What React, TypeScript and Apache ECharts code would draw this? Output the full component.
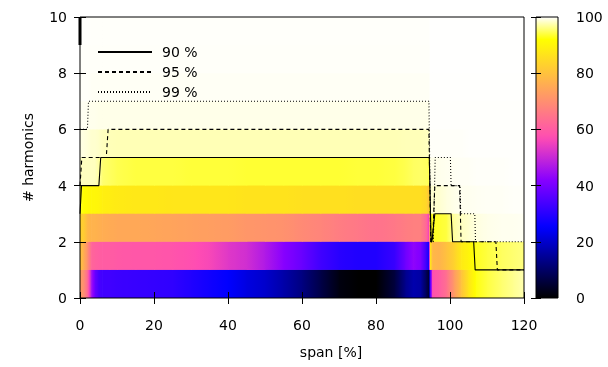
import React, { useEffect, useRef } from "react";
import * as echarts from "echarts";

// span [%] sample positions of the heat map columns
const spanX = [0, 1, 2, 3, 4, 5, 6, 8, 10, 15, 20, 25, 30, 35, 40, 45, 50, 55, 60, 65, 70, 75, 80, 85, 88, 90, 92, 93.6, 94.2, 94.6, 95.2, 97, 99, 101, 103, 105, 107, 110, 114, 117, 120];

// cumulative power [%] per harmonic row (row k spans y = k .. k+1)
const rowH0 = [72, 70, 62, 46, 38, 34, 33, 33, 32.5, 32, 31.5, 31, 29, 27, 25, 22, 20, 16.5, 12.5, 7, 1.5, 0, 0, 6, 14, 17, 16, 8, 5, 32, 58, 60, 64, 72, 80, 87, 92.5, 94, 95.5, 96.5, 97.5];
const rowH1 = [80, 76, 70, 62, 61, 60.5, 60, 60, 59.5, 59, 59, 58.5, 57.5, 56, 53, 51, 47, 42, 38, 33, 30, 29, 29, 32, 39, 43, 41, 32, 28, 88, 78, 77, 80, 83, 88, 90, 93, 94, 95, 95.5, 96];
const rowH2 = [83, 82, 78, 77, 77, 76.5, 76, 75.5, 75, 75, 74.5, 74, 73.5, 73, 72.5, 71.5, 71, 70.5, 69, 68, 66.5, 65.5, 64.5, 65.5, 66.5, 67, 67, 62, 55, 93, 93, 93.5, 94, 97, 98, 98.5, 99, 99.3, 99.5, 99.5, 99.6];
const rowH3 = [93, 92, 91, 90.5, 90.3, 90, 89, 88.5, 88, 87.5, 87.5, 87, 87, 87, 87, 86.5, 86.5, 86.5, 86, 86, 86, 85.5, 85.5, 85.5, 85.5, 85.5, 85.5, 84, 80, 98.5, 98.5, 98.5, 99, 99.3, 99.5, 99.5, 99.6, 99.7, 99.7, 99.8, 99.8];
const rowH4 = [98, 98, 98, 98, 98, 97, 95.5, 95, 94.5, 94, 94, 94, 93.8, 93.8, 93.8, 93.6, 93.6, 93.6, 93.6, 93.6, 93.6, 93.8, 93.8, 94, 94.5, 95, 95.2, 95, 94.5, 99.3, 99.3, 99.4, 99.5, 99.6, 99.7, 99.7, 99.8, 99.8, 99.8, 99.9, 99.9];
const rowH5 = [99.2, 99, 98.8, 98.5, 98.5, 98.3, 98, 97.8, 97.7, 97.7, 97.7, 97.7, 97.7, 97.7, 97.7, 97.7, 97.7, 97.7, 97.7, 97.7, 97.7, 97.7, 97.7, 97.7, 97.8, 97.8, 97.8, 98, 98, 99.8, 99.8, 99.8, 99.8, 99.8, 99.8, 99.9, 99.9, 99.9, 99.9, 99.9, 99.9];
const rowH6 = [99.6, 99.6, 99.5, 99.4, 99.4, 99.3, 99.3, 99.3, 99.3, 99.3, 99.3, 99.3, 99.3, 99.3, 99.3, 99.3, 99.3, 99.3, 99.3, 99.3, 99.3, 99.3, 99.3, 99.3, 99.3, 99.3, 99.3, 99.3, 99.3, 99.9, 99.9, 99.9, 99.9, 99.9, 99.9, 99.9, 99.9, 99.9, 99.9, 99.9, 99.9];
const rowH7 = [99.8, 99.8, 99.8, 99.7, 99.7, 99.7, 99.7, 99.7, 99.7, 99.7, 99.7, 99.7, 99.7, 99.7, 99.7, 99.7, 99.7, 99.7, 99.7, 99.7, 99.7, 99.7, 99.7, 99.7, 99.7, 99.7, 99.7, 99.7, 99.7, 99.95, 99.95, 99.95, 99.95, 99.95, 99.95, 99.95, 99.95, 99.95, 99.95, 99.95, 99.95];
const rowH8 = [99.85, 99.85, 99.85, 99.8, 99.8, 99.8, 99.8, 99.8, 99.8, 99.8, 99.8, 99.8, 99.8, 99.8, 99.8, 99.8, 99.8, 99.8, 99.8, 99.8, 99.8, 99.8, 99.8, 99.8, 99.8, 99.8, 99.8, 99.8, 99.8, 99.97, 99.97, 99.97, 99.97, 99.97, 99.97, 99.97, 99.97, 99.97, 99.97, 99.97, 99.97];
const rowH9 = [99.9, 99.9, 99.9, 99.85, 99.85, 99.85, 99.85, 99.85, 99.85, 99.85, 99.85, 99.85, 99.85, 99.85, 99.85, 99.85, 99.85, 99.85, 99.85, 99.85, 99.85, 99.85, 99.85, 99.85, 99.85, 99.85, 99.85, 99.85, 99.85, 99.98, 99.98, 99.98, 99.98, 99.98, 99.98, 99.98, 99.98, 99.98, 99.98, 99.98, 99.98];
const harmonicRows = [rowH0, rowH1, rowH2, rowH3, rowH4, rowH5, rowH6, rowH7, rowH8, rowH9];

// threshold lines: number of harmonics needed vs span
const line90X = [0, 0.4, 5.1, 5.6, 94.4, 94.9, 95.1, 95.9, 100.3, 100.7, 106.4, 106.8, 120];
const line90Y = [3, 4, 4, 5, 5, 2, 2, 3, 3, 2, 2, 1, 1];
const line95X = [0, 0.5, 7.1, 7.6, 94.3, 94.8, 95.3, 95.9, 102.6, 103.0, 112.4, 112.8, 120];
const line95Y = [4, 5, 5, 6, 6, 2, 2, 4, 4, 2, 2, 1, 1];
const line99X = [0, 0.3, 2.0, 2.3, 94.3, 94.8, 95.5, 96.0, 100.1, 100.3, 102.7, 102.9, 106.7, 106.9, 120];
const line99Y = [6, 6, 6, 7, 7, 2, 2, 5, 5, 4, 4, 3, 3, 2, 2];
const edgeMarkX = [0, 0];
const edgeMarkY = [10, 9];

const seriesNames = ["90 %", "95 %", "99 %"];
const colorbarRange = [0, 100];

const FONT = "DejaVu Sans";
const FS = 14;

// gnuplot rgbformulae 30,31,32
function paletteColor(v: number): string {
  const x = Math.max(0, Math.min(1, v / 100));
  const c = (t: number) => Math.max(0, Math.min(1, t));
  const r = c(x / 0.32 - 0.78125);
  const g = c(2 * x - 0.84);
  let b: number;
  if (x < 0.25) b = 4 * x;
  else if (x < 0.42) b = 1;
  else if (x < 0.92) b = -2 * x + 1.84;
  else b = x / 0.08 - 11.5;
  b = c(b);
  const h = (t: number) => Math.round(t * 255).toString(16).padStart(2, "0");
  return "#" + h(r) + h(g) + h(b);
}

const zip = (xs: number[], ys: number[]) => xs.map((x, i) => [x, ys[i]]);

export default function App() {
  const ref = useRef<HTMLDivElement>(null);
  useEffect(() => {
    const chart = echarts.init(ref.current as HTMLDivElement, null, { renderer: "svg" });

    const cells: number[][] = [];
    harmonicRows.forEach((row, k) => {
      for (let i = 0; i < spanX.length - 1; i++) {
        cells.push([spanX[i], spanX[i + 1], k, row[i], row[i + 1]]);
      }
    });
    const xMax = spanX[spanX.length - 1];
    const kMax = harmonicRows.length - 1;

    const axisTick = { show: true, inside: true, length: 6, lineStyle: { color: "#000", width: 1 } };
    const labelStyle = { color: "#000", fontSize: FS, fontFamily: FONT };

    const lineSeries = (name: string, data: number[][], type: any) => ({
      type: "line",
      name,
      data,
      xAxisIndex: 0,
      yAxisIndex: 0,
      symbol: "none",
      showSymbol: false,
      z: 5,
      lineStyle: { color: "#000", width: 1.1, type },
      itemStyle: { color: "#000" },
    });

    chart.setOption({
      animation: false,
      textStyle: { fontFamily: FONT },
      grid: [
        { left: 80, top: 17, width: 444, height: 281, show: true, borderColor: "#000", borderWidth: 1, backgroundColor: "transparent", z: 10 },
        { left: 536, top: 17, width: 22, height: 281, show: true, borderColor: "#000", borderWidth: 1, backgroundColor: "transparent", z: 10 },
      ],
      xAxis: [
        {
          type: "value", gridIndex: 0, min: 0, max: 120, interval: 20, position: "bottom", z: 10,
          axisLine: { show: false }, axisTick, splitLine: { show: false },
          axisLabel: { ...labelStyle, margin: 20 },
          name: "span [%]", nameLocation: "middle", nameGap: 47,
          nameTextStyle: { ...labelStyle, padding: [0, 0, 0, 58] },
        },
        {
          type: "value", gridIndex: 0, min: 0, max: 120, interval: 20, position: "top", z: 10,
          axisLine: { show: false }, axisTick, splitLine: { show: false }, axisLabel: { show: false },
        },
        { type: "value", gridIndex: 1, min: 0, max: 1, show: false },
      ],
      yAxis: [
        {
          type: "value", gridIndex: 0, min: 0, max: 10, interval: 2, position: "left", z: 10,
          axisLine: { show: false }, axisTick, splitLine: { show: false },
          axisLabel: { ...labelStyle, margin: 13 },
          name: "# harmonics", nameLocation: "middle", nameGap: 45, nameRotate: 90,
          nameTextStyle: { ...labelStyle },
        },
        {
          type: "value", gridIndex: 0, min: 0, max: 10, interval: 2, position: "right", z: 10,
          axisLine: { show: false }, axisTick, splitLine: { show: false }, axisLabel: { show: false },
        },
        {
          type: "value", gridIndex: 1, min: 0, max: 100, interval: 20, position: "right", z: 10,
          axisLine: { show: false }, axisTick: { ...axisTick, length: 5 }, splitLine: { show: false },
          axisLabel: { ...labelStyle, margin: 18 },
        },
        {
          type: "value", gridIndex: 1, min: 0, max: 100, interval: 20, position: "left", z: 10,
          axisLine: { show: false }, axisTick: { ...axisTick, length: 5 }, splitLine: { show: false }, axisLabel: { show: false },
        },
      ],
      legend: {
        data: seriesNames,
        orient: "vertical",
        left: 92,
        top: 40,
        itemWidth: 54,
        itemHeight: 14,
        itemGap: 6,
        selectedMode: false,
        itemStyle: { opacity: 0 },
        textStyle: { ...labelStyle, padding: [0, 0, 0, 5] },
        z: 20,
      },
      series: [
        {
          type: "custom",
          name: "map",
          xAxisIndex: 0,
          yAxisIndex: 0,
          z: 1,
          encode: { x: [0, 1], y: 2 },
          data: cells,
          renderItem: (params: any, api: any) => {
            const x0 = api.value(0), x1 = api.value(1), k = api.value(2);
            const v0 = api.value(3), v1 = api.value(4);
            const tl = api.coord([x0, k + 1]);
            const br = api.coord([x1, k]);
            const extW = x1 < xMax ? 0.7 : 0;
            const extH = k < kMax ? 0.7 : 0;
            const stops = [] as any[];
            const n = 6;
            for (let j = 0; j <= n; j++) {
              const t = j / n;
              stops.push({ offset: t, color: paletteColor(v0 + (v1 - v0) * t) });
            }
            return {
              type: "rect",
              shape: { x: tl[0], y: tl[1] - extH, width: br[0] - tl[0] + extW, height: br[1] - tl[1] + extH },
              style: { fill: new echarts.graphic.LinearGradient(0, 0, 1, 0, stops) },
            };
          },
        },
        lineSeries(seriesNames[0], zip(line90X, line90Y), "solid"),
        lineSeries(seriesNames[1], zip(line95X, line95Y), [4, 3]),
        lineSeries(seriesNames[2], zip(line99X, line99Y), [1, 2]),
        {
          type: "line",
          name: "edge",
          data: zip(edgeMarkX, edgeMarkY),
          symbol: "none",
          z: 6,
          lineStyle: { color: "#000", width: 3 },
        },
        {
          type: "custom",
          name: "colorbar",
          xAxisIndex: 2,
          yAxisIndex: 2,
          z: 1,
          encode: { x: 0, y: 1 },
          data: [[0, colorbarRange[1]]],
          renderItem: (params: any, api: any) => {
            const tl = api.coord([0, colorbarRange[1]]);
            const br = api.coord([1, colorbarRange[0]]);
            const stops = [] as any[];
            const n = 50;
            for (let j = 0; j <= n; j++) {
              const t = j / n;
              stops.push({ offset: t, color: paletteColor(colorbarRange[1] - (colorbarRange[1] - colorbarRange[0]) * t) });
            }
            return {
              type: "rect",
              shape: { x: tl[0], y: tl[1], width: br[0] - tl[0], height: br[1] - tl[1] },
              style: { fill: new echarts.graphic.LinearGradient(0, 0, 0, 1, stops) },
            };
          },
        },
      ],
    });
    return () => chart.dispose();
  }, []);
  return <div ref={ref} style={{ position: "fixed", left: 0, top: 0, width: 608, height: 367 }} />;
}
